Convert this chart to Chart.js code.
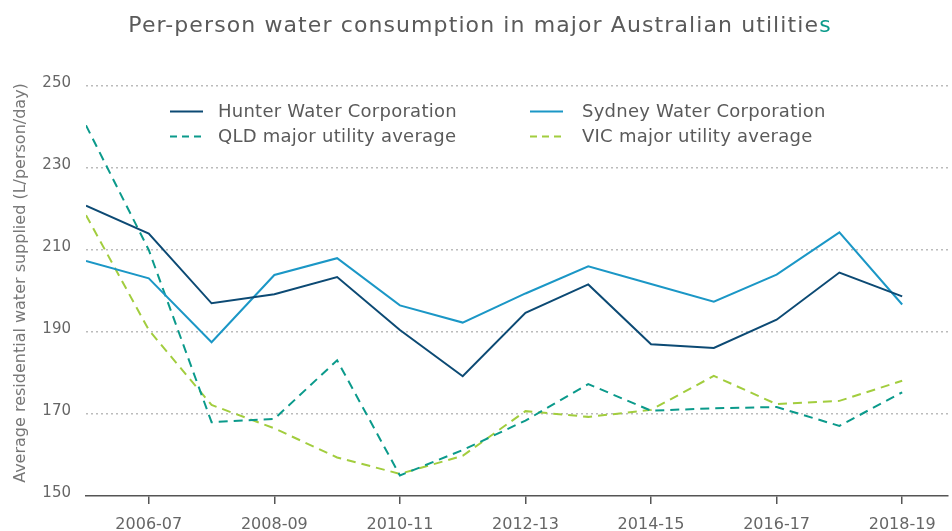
<!DOCTYPE html>
<html>
<head>
<meta charset="utf-8">
<script src="https://cdn.jsdelivr.net/npm/chart.js@4/dist/chart.umd.min.js"></script>
<style>
  html, body { margin: 0; padding: 0; background: #fff; }
  body { width: 952px; height: 531px; position: relative; overflow: hidden; font-family: "DejaVu Sans", sans-serif; }
  #wrap { position: absolute; left: 0; top: 0; width: 952px; height: 531px; }
  #title { position: absolute; left: 0; width: 960px; top: 11px; text-align: center; font-size: 22px; letter-spacing: 1.1px; color: #5a5a5a; white-space: nowrap; line-height: 28px; }
  #title span { color: #0a9a8a; }
  #ytitle { position: absolute; left: 20px; top: 283px; width: 500px; height: 20px; margin-left: -250px; margin-top: -10px; line-height: 20px; text-align: center; transform: rotate(-90deg); font-size: 16px; color: #777; white-space: nowrap; }
  .leg { position: absolute; font-size: 18px; letter-spacing: 0.25px; color: #5a5a5a; white-space: nowrap; line-height: 20px; }
  .leg svg { position: absolute; left: 0; top: 9px; }
  .leg .t { position: absolute; left: 48px; top: 0; }
</style>
</head>
<body>
<div id="wrap"><canvas id="c" width="952" height="531"></canvas></div>
<div id="title">Per-person water consumption in major Australian utilitie<span>s</span></div>
<div id="ytitle">Average residential water supplied (L/person/day)</div>
<div id="legend"></div>
<script>
const categories = ['2005-06','2006-07','2007-08','2008-09','2009-10','2010-11','2011-12','2012-13','2013-14','2014-15','2015-16','2016-17','2017-18','2018-19'];
const hunter = [220.8, 214.0, 197.0, 199.2, 203.4, 190.5, 179.2, 194.7, 201.6, 187.0, 186.1, 193.0, 204.5, 198.7];
const sydney = [207.3, 203.1, 187.5, 203.9, 208.0, 196.5, 192.3, 199.4, 206.0, 201.7, 197.4, 204.0, 214.3, 196.7];
const qld    = [240.4, 210.0, 168.0, 168.8, 183.1, 155.0, 161.2, 168.4, 177.3, 170.8, 171.4, 171.7, 167.1, 175.3];
const vic    = [218.5, 190.5, 172.2, 166.5, 159.4, 155.4, 159.8, 170.7, 169.3, 171.0, 179.3, 172.4, 173.2, 178.1];
const yTicks = [150, 170, 190, 210, 230, 250];
const xTickIdx = [1, 3, 5, 7, 9, 11, 13];

const seriesNames = ['Hunter Water Corporation', 'Sydney Water Corporation', 'QLD major utility average', 'VIC major utility average'];
const seriesColors = ['#0c4a74', '#1b97c6', '#0b9a8b', '#a2cd3e'];
const seriesDashed = [false, false, true, true];
const seriesData = [hunter, sydney, qld, vic];

const FONT = '"DejaVu Sans", sans-serif';

const datasets = seriesData.map((arr, k) => ({
  label: seriesNames[k],
  data: arr.map((v, i) => ({ x: i, y: v })),
  borderColor: seriesColors[k],
  borderWidth: 2,
  borderDash: seriesDashed[k] ? [9, 6] : [],
  pointRadius: 0,
  tension: 0,
  fill: false
}));

new Chart(document.getElementById('c'), {
  type: 'line',
  data: { datasets },
  options: {
    responsive: false,
    animation: false,
    layout: { padding: { left: 0, right: 4, top: 86, bottom: 0 } },
    plugins: { legend: { display: false }, tooltip: { enabled: false }, title: { display: false } },
    scales: {
      x: {
        type: 'linear',
        min: 0,
        max: 13.73,
        afterBuildTicks: (s) => { s.ticks = xTickIdx.map(v => ({ value: v })); },
        afterFit: (s) => { s.height = 35; },
        ticks: {
          autoSkip: false,
          maxRotation: 0,
          padding: 11,
          color: '#666',
          font: { family: FONT, size: 16 },
          callback: (v) => categories[v]
        },
        grid: { display: true, drawOnChartArea: false, drawTicks: true, tickLength: 8, color: '#555', lineWidth: 1.5 },
        border: { display: true, color: '#555', width: 1.5 }
      },
      y: {
        min: 150,
        max: 250,
        afterBuildTicks: (s) => { s.ticks = yTicks.map(v => ({ value: v })); },
        afterFit: (s) => { s.width = 86; },
        ticks: { padding: 15, labelOffset: -3, color: '#666', font: { family: FONT, size: 15 } },
        grid: { color: (ctx) => ctx.tick && ctx.tick.value === 150 ? 'rgba(0,0,0,0)' : '#bbb', lineWidth: 1.5, drawTicks: false },
        border: { display: false, dash: [2, 3] }
      }
    }
  }
});

// HTML legend
const legPos = [[170, 101], [530, 101], [170, 126], [530, 126]];
const legTextOffset = [48, 52, 48, 52];
const legend = document.getElementById('legend');
seriesNames.forEach((name, k) => {
  const d = document.createElement('div');
  d.className = 'leg';
  d.style.left = legPos[k][0] + 'px';
  d.style.top = legPos[k][1] + 'px';
  const dash = seriesDashed[k] ? 'stroke-dasharray="7,5"' : '';
  d.innerHTML = '<svg width="34" height="3"><line x1="0" y1="1.5" x2="33" y2="1.5" stroke="' + seriesColors[k] + '" stroke-width="2" ' + dash + '/></svg>' +
    '<span class="t" style="left:' + legTextOffset[k] + 'px">' + name + '</span>';
  legend.appendChild(d);
});
</script>
</body>
</html>
